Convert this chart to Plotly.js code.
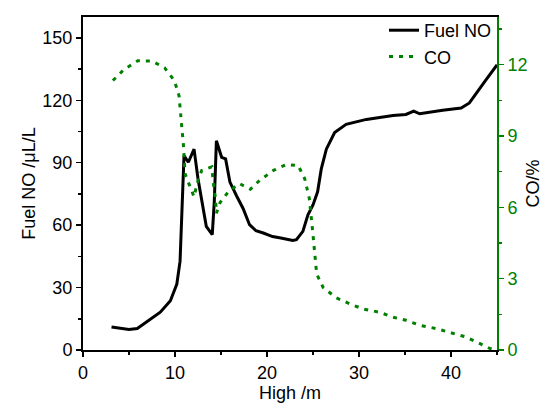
<!DOCTYPE html>
<html>
<head>
<meta charset="utf-8">
<script src="https://cdn.plot.ly/plotly-3.0.1.min.js"></script>
<style>html,body{margin:0;padding:0;background:#fff;}#chart{width:543px;height:408px;}</style>
</head>
<body>
<div id="chart"></div>
<script>
const noHeight = [3.1, 4, 5, 5.9, 6.9, 8.4, 9.5, 10.2, 10.55, 10.7, 10.98, 11.45, 12.07, 12.5, 13.4, 14.05, 14.27, 14.5, 15.07, 15.5, 15.97, 16.7, 17.4, 18.1, 18.8, 19.6, 20.6, 21.5, 22.8, 23.2, 23.9, 24.45, 25.0, 25.5, 25.9, 26.45, 27.35, 28.6, 30.8, 33.7, 35.1, 35.95, 36.6, 39.1, 41.1, 42.0, 43.1, 43.8, 45];
const fuelNO = [11.1, 10.4, 9.8, 10.3, 13.5, 18.2, 23.7, 31.7, 42.7, 63, 93.4, 90.2, 96.5, 82.3, 59.4, 55.4, 71.2, 100.5, 92.6, 91.8, 80.7, 74, 68.0, 60.2, 57.3, 56.2, 54.5, 53.8, 52.6, 53, 57, 64.9, 69.7, 76, 87, 96.5, 104.5, 108.4, 110.8, 112.7, 113.2, 114.8, 113.5, 115.2, 116.3, 118.7, 125.8, 129.8, 137];
const coHeight = [3.25, 4.48, 5.96, 7.48, 8.85, 9.93, 10.44, 10.62, 10.73, 10.9, 11.1, 11.6, 12.07, 12.4, 12.9, 14.0, 14.15, 14.4, 14.5, 14.9, 15.8, 17.0, 18.2, 19.2, 20.7, 22.1, 23.4, 24.1, 24.6, 25.0, 25.4, 26.1, 27.5, 29.0, 30.4, 32.2, 33.7, 35.1, 36.6, 38.4, 39.8, 41.6, 43.1, 44.2, 45];
const coPct = [11.33, 11.8, 12.16, 12.15, 11.87, 11.33, 10.69, 10.04, 9.4, 8.7, 7.4, 6.9, 6.44, 7.0, 7.55, 7.7, 7.06, 6.37, 5.75, 6.2, 6.65, 7.0, 6.76, 7.13, 7.55, 7.8, 7.75, 7.2, 6.37, 4.85, 3.19, 2.63, 2.2, 1.94, 1.73, 1.59, 1.38, 1.25, 1.04, 0.9, 0.76, 0.55, 0.28, 0.07, 0];

const green = '#008000';
const fnt = {family: 'Liberation Sans, Arial, sans-serif', size: 18, color: '#000'};

const traces = [
  {x: noHeight, y: fuelNO, name: 'Fuel NO', type: 'scatter', mode: 'lines',
   line: {color: '#000', width: 3}, yaxis: 'y'},
  {x: coHeight, y: coPct, name: 'CO', type: 'scatter', mode: 'lines',
   line: {color: green, width: 3, dash: '4px,6px'}, yaxis: 'y2'}
];

const layout = {
  width: 543, height: 408,
  margin: {l: 83, r: 46, t: 13, b: 58},
  paper_bgcolor: '#fff', plot_bgcolor: '#fff',
  font: fnt,
  showlegend: true,
  legend: {x: 1, y: 1.015, xanchor: 'right', yanchor: 'top', bgcolor: 'rgba(0,0,0,0)',
           font: fnt, tracegroupgap: 0, itemwidth: 30},
  xaxis: {range: [0, 45], dtick: 10, tick0: 0, showgrid: false, zeroline: false,
          showline: true, linecolor: '#000', linewidth: 2, mirror: true,
          ticks: 'outside', ticklen: 5, tickwidth: 1.5, tickcolor: '#000',
          minor: {dtick: 5, ticks: 'outside', ticklen: 3, tickwidth: 1.5, tickcolor: '#000'},
          tickfont: fnt, title: {text: 'High /m', font: fnt, standoff: 5}},
  yaxis: {range: [0, 160], dtick: 30, tick0: 0, showgrid: false, zeroline: false,
          showline: true, linecolor: '#000', linewidth: 2,
          ticks: 'outside', ticklen: 5, tickwidth: 1.5, tickcolor: '#000',
          minor: {dtick: 15, ticks: 'outside', ticklen: 3, tickwidth: 1.5, tickcolor: '#000'},
          tickfont: fnt, title: {text: 'Fuel NO /μL/L', font: fnt, standoff: 2}},
  yaxis2: {range: [0, 14], dtick: 3, tick0: 0, overlaying: 'y', side: 'right',
           showgrid: false, zeroline: false,
           showline: true, linecolor: green, linewidth: 2,
           ticks: 'outside', ticklen: 5, tickwidth: 1.5, tickcolor: green,
           minor: {dtick: 1.5, ticks: 'outside', ticklen: 3, tickwidth: 1.5, tickcolor: green},
           tickfont: {family: fnt.family, size: 18, color: green},
           title: {text: 'CO/%', font: fnt, standoff: 9}}
};

Plotly.newPlot('chart', traces, layout, {displayModeBar: false, staticPlot: true});
</script>
</body>
</html>
